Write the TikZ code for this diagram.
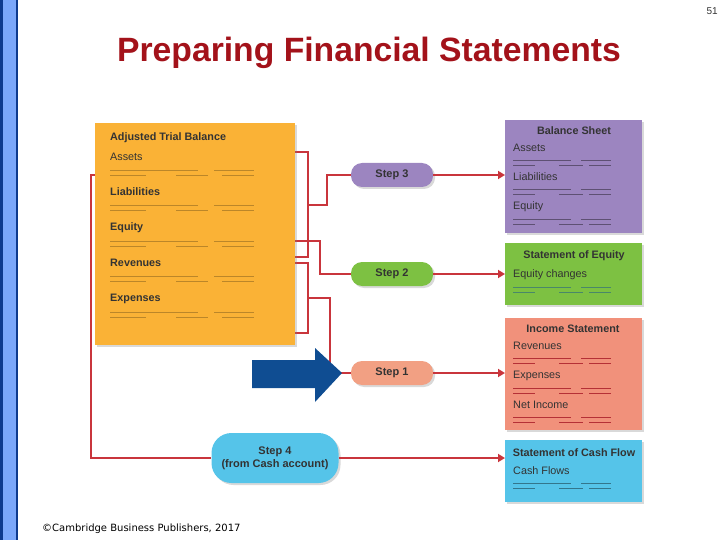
\documentclass[tikz,border=0pt]{standalone}
\usepackage{fontspec}
\setmainfont{Liberation Sans}
\newfontfamily\creditfont{DejaVu Sans}
\usetikzlibrary{arrows.meta, positioning, calc, backgrounds, shadows}
\definecolor{BarBlue}{HTML}{7BA7FA}
\definecolor{BarEdge}{HTML}{0E3A8E}
\definecolor{TitleRed}{HTML}{A3121A}
\definecolor{LinkRed}{HTML}{C9353C}
\definecolor{TrialOrange}{HTML}{FAB236}
\definecolor{SheetPurple}{HTML}{9C85C0}
\definecolor{EquityGreen}{HTML}{7DC142}
\definecolor{IncomeSalmon}{HTML}{F1917B}
\definecolor{StepSalmon}{HTML}{F2A083}
\definecolor{CashCyan}{HTML}{55C4E9}
\definecolor{PushBlue}{HTML}{0F4D92}
\definecolor{InkGray}{HTML}{333333}

% scribbled figures under an item
\newcommand{\scribble}[3]{%
  \draw[#3, line width=0.7pt] ($(#1)+(0,#2)$) -- ++(88,0) ($(#1)+(104,#2)$) -- ++(40,0)
        ($(#1)+(0,#2+5)$) -- ++(36,0) ($(#1)+(66,#2+5)$) -- ++(32,0) ($(#1)+(112,#2+5)$) -- ++(32,0);}
\newcommand{\scribbleS}[3]{%
  \draw[#3, line width=0.7pt] ($(#1)+(0,#2)$) -- ++(58,0) ($(#1)+(68,#2)$) -- ++(30,0)
        ($(#1)+(0,#2+5)$) -- ++(22,0) ($(#1)+(46,#2+5)$) -- ++(24,0) ($(#1)+(76,#2+5)$) -- ++(22,0);}

\begin{document}
\begin{tikzpicture}[
    x=1pt, y=-1pt,
    every node/.style={inner sep=0pt, text=InkGray},
    sheet/.style={rectangle, minimum width=137pt, anchor=north west,
                  drop shadow={shadow xshift=2pt, shadow yshift=-2pt, opacity=0.3}},
    pill/.style={rectangle, rounded corners=11pt, minimum width=82pt, minimum height=24pt,
                 font=\fontsize{11}{13}\selectfont\bfseries, align=center,
                 drop shadow={shadow xshift=2pt, shadow yshift=-2pt, opacity=0.3}},
    head/.style={font=\fontsize{10.8}{13}\selectfont\bfseries},
    item/.style={font=\fontsize{10.8}{13}\selectfont, anchor=west},
    bolditem/.style={item, font=\fontsize{10.8}{13}\selectfont\bfseries},
    link/.style={LinkRed, line width=2pt},
    arrow/.style={link, -{Triangle[length=7pt,width=8pt]}}
]
    \useasboundingbox (0,0) rectangle (720,540);
    % side bar
    \fill[BarBlue] (0,0) rectangle (18,540);
    \draw[BarEdge, line width=2.5pt] (1.25,-2) -- (1.25,542) (16.75,-2) -- (16.75,542);

    \node[anchor=base, font=\fontsize{33.7}{36}\selectfont\bfseries, text=TitleRed] (title) at (369,62)
        {Preparing Financial Statements};
    \node[font=\fontsize{10}{12}\selectfont, anchor=east] (page) at (718,11) {51};

    % trial balance
    \node[sheet, fill=TrialOrange, minimum width=200pt, minimum height=222pt] (atb) at (95,123) {};
    \node[head, anchor=west] (atbhead) at (110,138) {Adjusted Trial Balance};
    \node[item] (assets) at (110,157) {Assets};
    \node[bolditem] (liab) at (110,192) {Liabilities};
    \node[bolditem] (equity) at (110,228) {Equity};
    \node[bolditem] (rev) at (110,263) {Revenues};
    \node[bolditem] (exp) at (110,299) {Expenses};
    \foreach \n in {assets, liab, equity, rev, exp}{
        \scribble{\n.west}{13}{TrialOrange!75!black}
    }

    % statements
    \node[sheet, fill=SheetPurple, minimum height=113pt] (bs) at (505,120) {};
    \node[head] (bshead) at (574,131) {Balance Sheet};
    \node[item] (bsa) at (513,148) {Assets};
    \node[item] (bsl) at (513,177) {Liabilities};
    \node[item] (bse) at (513,207) {Equity};

    \node[sheet, fill=EquityGreen, minimum height=62pt] (se) at (505,243) {};
    \node[head] (sehead) at (574,256) {Statement of Equity};
    \node[item] (sec) at (513,275) {Equity changes};

    \node[sheet, fill=IncomeSalmon, minimum height=112pt] (is) at (505,318) {};
    \node[head] (ishead) at (573,329) {Income Statement};
    \node[item] (isr) at (513,346) {Revenues};
    \node[item] (ise) at (513,376) {Expenses};
    \node[item] (isn) at (513,405) {Net Income};

    \node[sheet, fill=CashCyan, minimum height=62pt] (cf) at (505,440) {};
    \node[head] (cfhead) at (574,453) {Statement of Cash Flow};
    \node[item] (cfc) at (513,471) {Cash Flows};

    \foreach \n in {bsa, bsl, bse}{ \scribbleS{\n.west}{12}{SheetPurple!60!black} }
    \scribbleS{sec.west}{12}{EquityGreen!50!CashCyan!70!black}
    \foreach \n in {isr, ise, isn}{ \scribbleS{\n.west}{12}{LinkRed!90!black} }
    \scribbleS{cfc.west}{12}{CashCyan!60!black}

    % steps
    \node[pill, fill=SheetPurple] (step3) at (392,175) {Step 3};
    \node[pill, fill=EquityGreen] (step2) at (392,274) {Step 2};
    \node[pill, fill=StepSalmon] (step1) at (392,373) {Step 1};
    \node[pill, fill=CashCyan, rounded corners=20pt, minimum width=127pt, minimum height=50pt]
        (step4) at (275,458) {Step 4\\(from Cash account)};

    \begin{scope}[on background layer]
        \coordinate (b1top) at (295,152);
        \coordinate (b1bot) at (295,257);
        \coordinate (b2top) at (295,263);
        \coordinate (b2bot) at (295,333);
        \coordinate (j3) at (308,205);
        \coordinate (j2) at (295,241);
        \coordinate (j1) at (308,298);
        \coordinate (cash) at (96,175);
        \draw[link] (b1top) -- ++(13,0) |- (b1bot);
        \draw[link] (b2top) -- ++(13,0) |- (b2bot);
        \draw[link] (j3) -- ++(19,0) |- (step3);
        \draw[link] (j2) -- ++(25,0) |- (step2);
        \draw[link] (j1) -- ++(22,0) |- (step1);
        \draw[link] (cash) -- ++(-5,0) |- (step4);
    \end{scope}
    \draw[arrow] (step3) -- (bs.west |- step3);
    \draw[arrow] (step2) -- (se.west |- step2);
    \draw[arrow] (step1) -- (is.west |- step1);
    \draw[arrow] (step4) -- (cf.west |- step4);

    % push arrow into step 1
    \fill[PushBlue] (252,360) -- (315,360) -- (315,348) -- (342,373) -- (315,402) -- (315,388)
        -- (252,388) -- cycle;

    \node[anchor=base west, font=\creditfont\fontsize{10}{12}\selectfont, text=black] (credit) at (42,531)
        {©Cambridge Business Publishers, 2017};
\end{tikzpicture}
\end{document}
